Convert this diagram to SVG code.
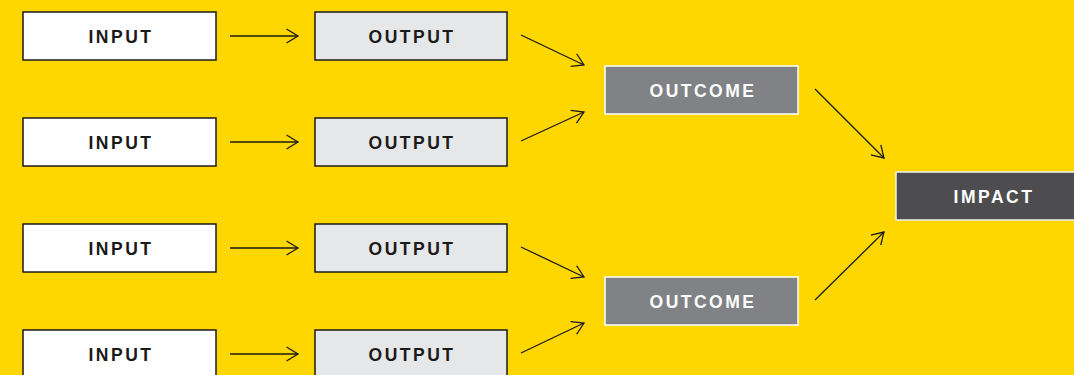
<svg xmlns="http://www.w3.org/2000/svg" width="1074" height="375" viewBox="0 0 1074 375">
<style>
text{font-family:"Liberation Sans",Arial,sans-serif;font-weight:bold;font-size:17.5px;letter-spacing:2.5px;text-anchor:middle}
.in rect{fill:#FFFFFF;stroke:#1a1a1a;stroke-width:1.5}
.out rect{fill:#E6E7E8;stroke:#1a1a1a;stroke-width:1.5}
.oc rect{fill:#808285;stroke:#FFFFFF;stroke-width:1.5}
.im rect{fill:#4D4D4F;stroke:#F2F2F2;stroke-width:1.5}
.in text,.out text{fill:#1a1a1a}
.oc text,.im text{fill:#FFFFFF}
.conn line{stroke:#1a1a1a;stroke-width:1.3;fill:none;marker-end:url(#arr)}
</style>
<defs>
<marker id="arr" viewBox="0 0 14 16" refX="12.5" refY="8" markerWidth="14" markerHeight="16" markerUnits="userSpaceOnUse" orient="auto">
<path d="M1,1 L12.5,8 L1,15" fill="none" stroke="#1a1a1a" stroke-width="1.3"/>
</marker>
</defs>
<rect x="0" y="0" width="1074" height="375" fill="#FFD700"/>
<g id="input1" class="in"><rect x="23" y="12" width="193" height="48"/><text x="121" y="43">INPUT</text></g>
<g id="input2" class="in"><rect x="23" y="118" width="193" height="48"/><text x="121" y="149">INPUT</text></g>
<g id="input3" class="in"><rect x="23" y="224" width="193" height="48"/><text x="121" y="255">INPUT</text></g>
<g id="input4" class="in"><rect x="23" y="330" width="193" height="48"/><text x="121" y="361">INPUT</text></g>
<g id="output1" class="out"><rect x="315" y="12" width="192" height="48"/><text x="412" y="43">OUTPUT</text></g>
<g id="output2" class="out"><rect x="315" y="118" width="192" height="48"/><text x="412" y="149">OUTPUT</text></g>
<g id="output3" class="out"><rect x="315" y="224" width="192" height="48"/><text x="412" y="255">OUTPUT</text></g>
<g id="output4" class="out"><rect x="315" y="330" width="192" height="48"/><text x="412" y="361">OUTPUT</text></g>
<g id="outcome1" class="oc"><rect x="605" y="66" width="193" height="48"/><text x="703" y="97">OUTCOME</text></g>
<g id="outcome2" class="oc"><rect x="605" y="277" width="193" height="48"/><text x="703" y="308">OUTCOME</text></g>
<g id="impact" class="im"><rect x="896" y="172" width="185" height="48"/><text x="994" y="203">IMPACT</text></g>
<g id="connectors" class="conn">
<line x1="230" y1="36" x2="298" y2="36"/>
<line x1="230" y1="142" x2="298" y2="142"/>
<line x1="230" y1="248" x2="298" y2="248"/>
<line x1="230" y1="354" x2="298" y2="354"/>
<line x1="521" y1="35" x2="584" y2="65"/>
<line x1="521" y1="141" x2="584" y2="112"/>
<line x1="521" y1="247" x2="584" y2="277"/>
<line x1="521" y1="353" x2="584" y2="323"/>
<line x1="815" y1="89" x2="884" y2="158"/>
<line x1="815" y1="300" x2="884" y2="232"/>
</g>
</svg>
